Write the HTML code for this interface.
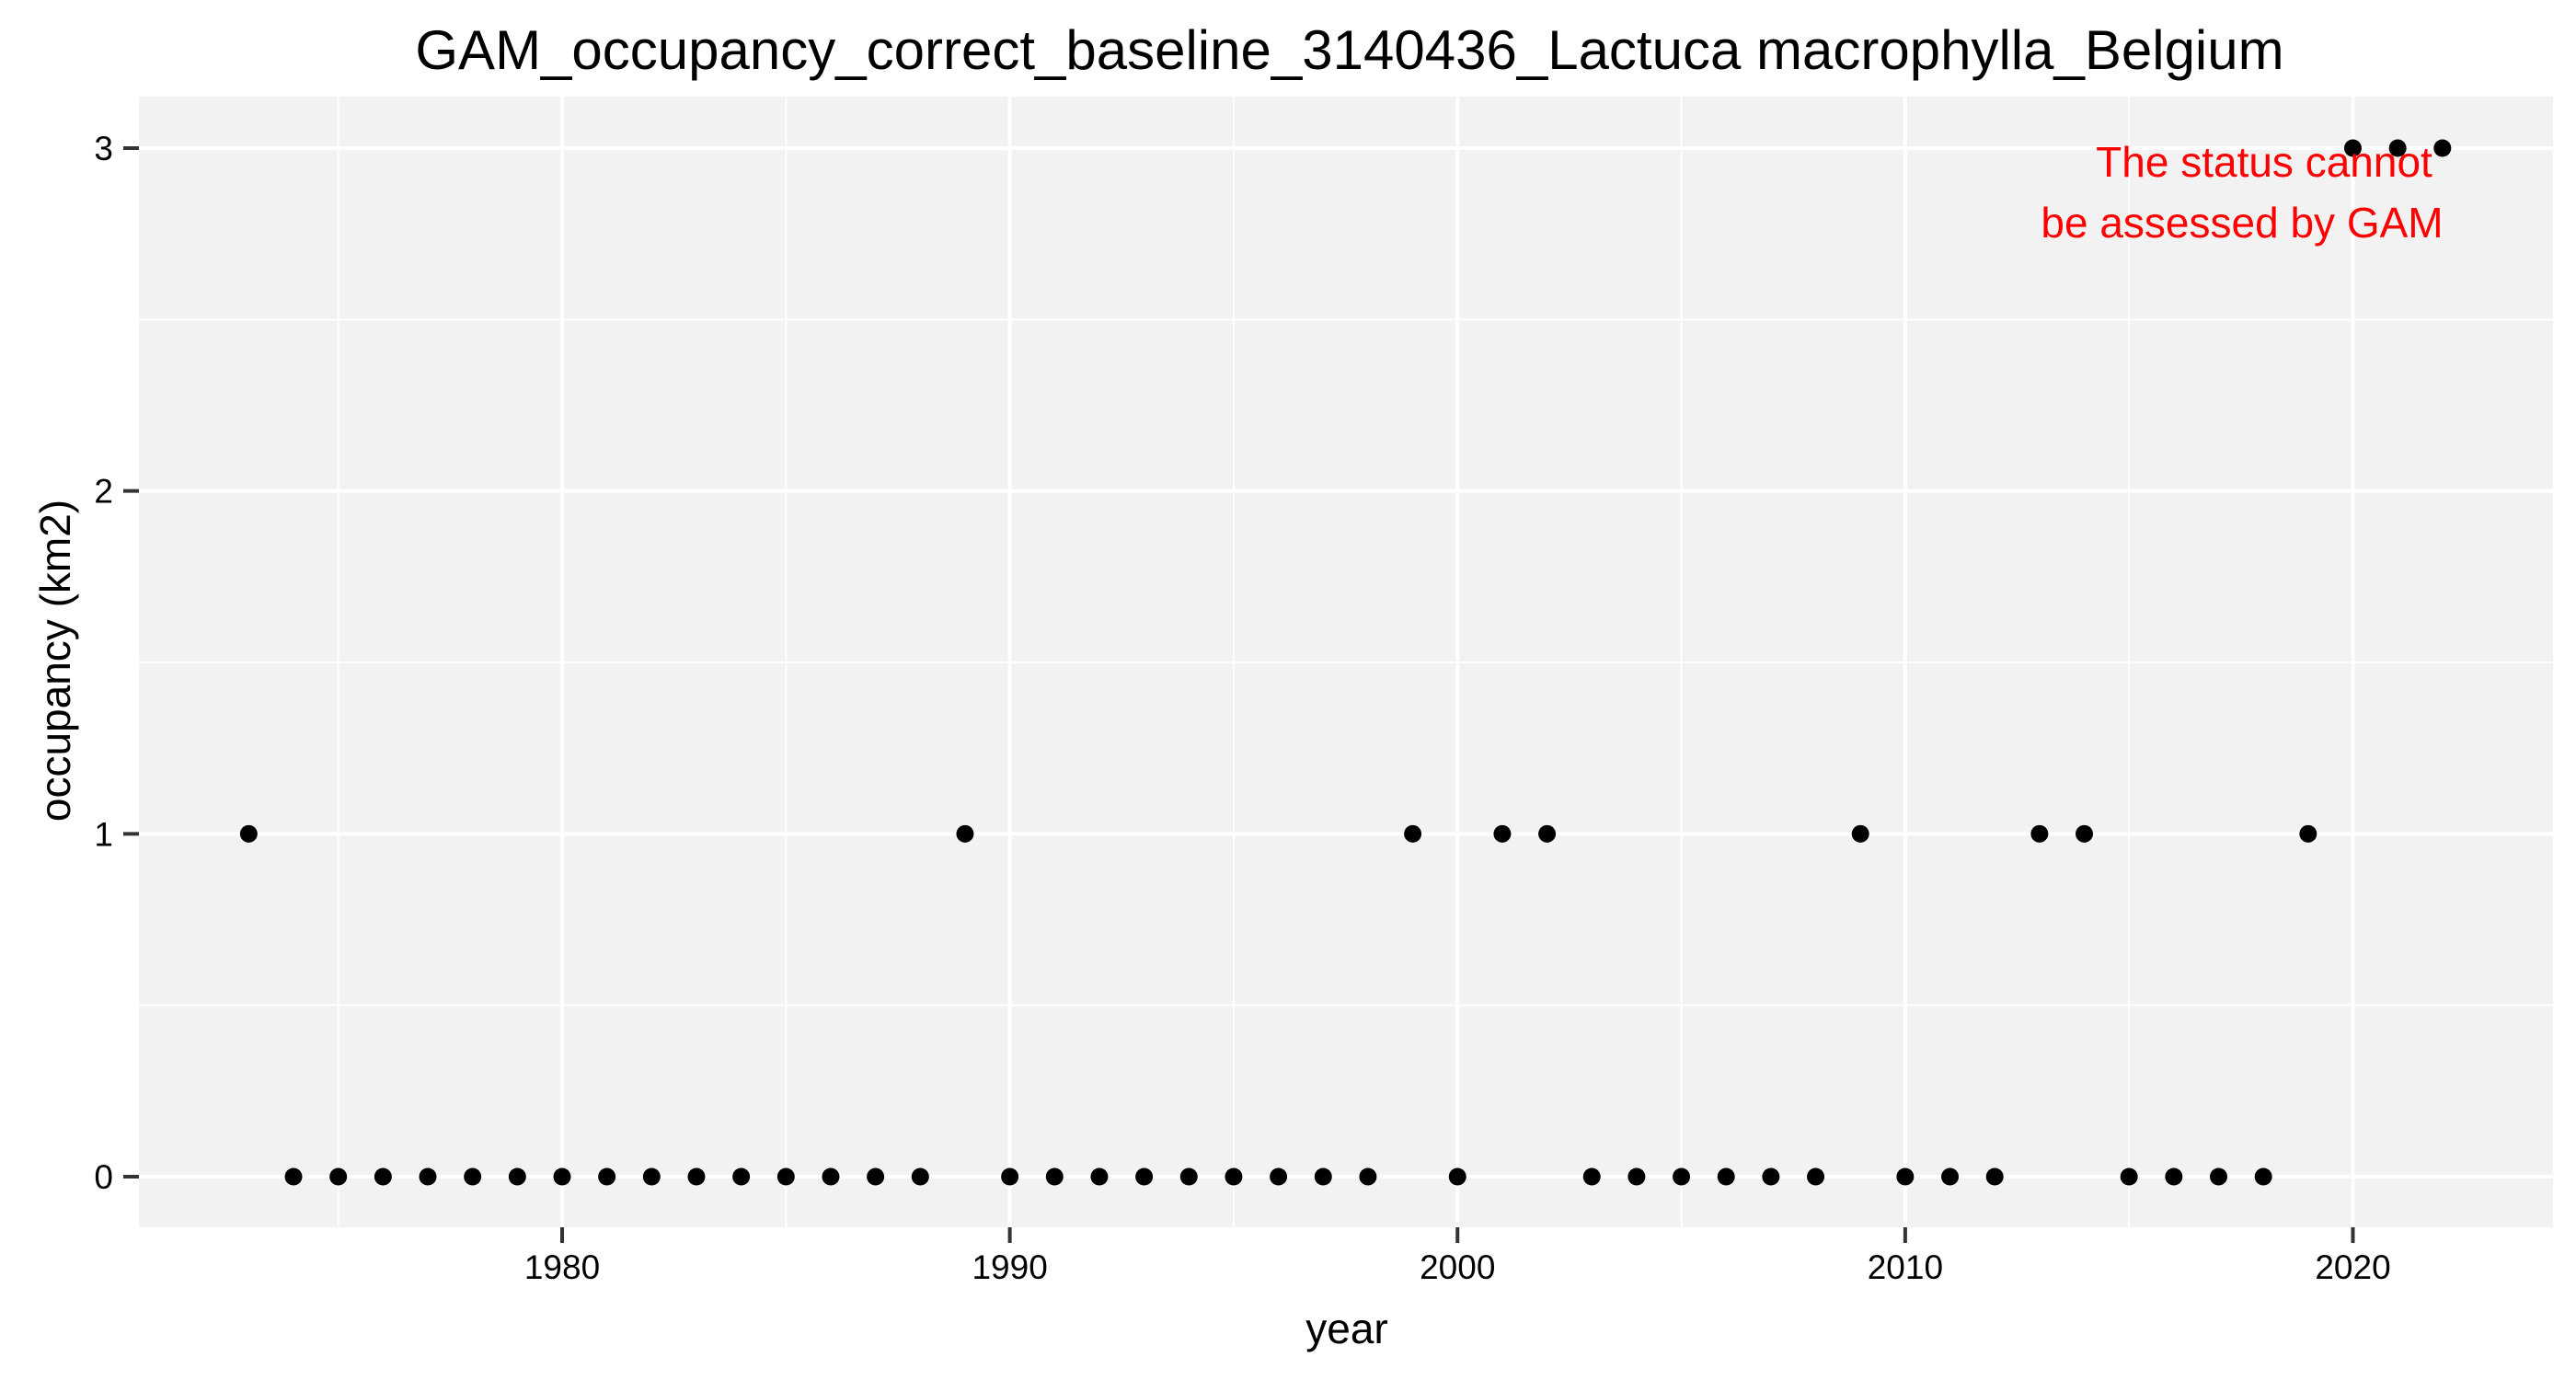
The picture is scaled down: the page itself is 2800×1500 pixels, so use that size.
<!DOCTYPE html>
<html><head><meta charset="utf-8"><style>html,body{margin:0;padding:0;background:#fff}svg{display:block;font-family:"Liberation Sans",Arial,sans-serif}</style></head>
<body>
<svg id="chart" width="2800" height="1500" viewBox="0 0 2800 1500">
<rect x="0" y="0" width="2800" height="1500" fill="#fff"/>
<text x="1467" y="75" font-size="60" text-anchor="middle" fill="#000">GAM_occupancy_correct_baseline_3140436_Lactuca macrophylla_Belgium</text>
<rect x="151" y="105" width="2624" height="1229" fill="#f2f2f2"/>
<g id="grid"></g>
<g id="axes"></g>
<g id="points"></g>
<text x="2461" y="192" font-size="46" text-anchor="middle" fill="#ff0000">The status cannot</text>
<text x="2437" y="258" font-size="46" text-anchor="middle" fill="#ff0000">be assessed by GAM</text>
<text x="1464" y="1460" font-size="46" text-anchor="middle" fill="#000">year</text>
<text x="0" y="0" font-size="46" text-anchor="middle" fill="#000" transform="translate(76,718) rotate(-90)">occupancy (km2)</text>
</svg>
<script>
const years = [1973,1974,1975,1976,1977,1978,1979,1980,1981,1982,1983,1984,1985,1986,1987,1988,1989,1990,1991,1992,1993,1994,1995,1996,1997,1998,1999,2000,2001,2002,2003,2004,2005,2006,2007,2008,2009,2010,2011,2012,2013,2014,2015,2016,2017,2018,2019,2020,2021,2022];
const occupancy = [1,0,0,0,0,0,0,0,0,0,0,0,0,0,0,0,1,0,0,0,0,0,0,0,0,0,1,0,1,1,0,0,0,0,0,0,1,0,0,0,1,1,0,0,0,0,1,3,3,3];
const xTicks = [1980,1990,2000,2010,2020];
const xMinor = [1975,1985,1995,2005,2015];
const yTicks = [0,1,2,3];
const yMinor = [0.5,1.5,2.5];
const NS = "http://www.w3.org/2000/svg";
function xs(v){ return 611 + (v-1980)*(2557.5-611)/40; }
function ys(v){ return 1279 - v*(1279-161)/3; }
function mk(tag, attrs, parent){ const e=document.createElementNS(NS,tag); for(const k in attrs) e.setAttribute(k,attrs[k]); parent.appendChild(e); return e; }
const grid=document.getElementById('grid'), axes=document.getElementById('axes'), pts=document.getElementById('points');
xMinor.forEach(v=>{ const l=mk('line',{x1:xs(v),x2:xs(v),y1:105,y2:1334,stroke:'#fff','stroke-width':2},grid);

 });
yMinor.forEach(v=>{ const l=mk('line',{x1:151,x2:2775,y1:ys(v),y2:ys(v),stroke:'#fff','stroke-width':2},grid);

 });
xTicks.forEach(v=>{ const l=mk('line',{x1:xs(v),x2:xs(v),y1:105,y2:1334,stroke:'#fff','stroke-width':4},grid);


const t=mk('line',{x1:xs(v),x2:xs(v),y1:1334,y2:1351,stroke:'#333','stroke-width':4},axes);


const tx=mk('text',{x:xs(v),y:1390,'font-size':37,'text-anchor':'middle',fill:'#000'},axes); tx.textContent=v;

 });
yTicks.forEach(v=>{ const l=mk('line',{x1:151,x2:2775,y1:ys(v),y2:ys(v),stroke:'#fff','stroke-width':4},grid);


const t=mk('line',{x1:134,x2:151,y1:ys(v),y2:ys(v),stroke:'#333','stroke-width':4},axes);


const tx=mk('text',{x:123,y:ys(v)+13,'font-size':37,'text-anchor':'end',fill:'#000'},axes); tx.textContent=v;

 });
years.forEach((y,i)=>{ const c=mk('circle',{cx:xs(y),cy:ys(occupancy[i]),r:9.5,fill:'#000'},pts);

 });
</script>
</body></html>
